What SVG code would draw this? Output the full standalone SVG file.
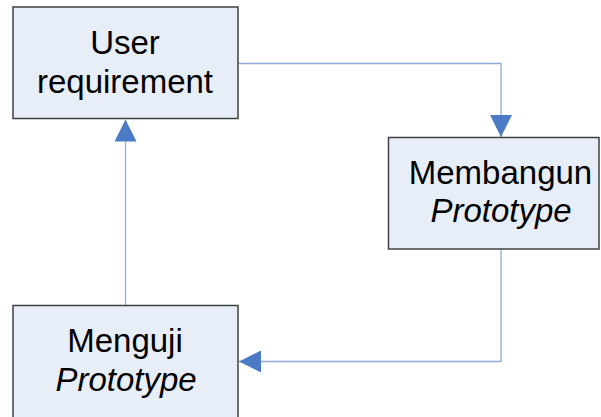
<svg xmlns="http://www.w3.org/2000/svg" width="601" height="417" viewBox="0 0 601 417">
  <defs>
    <style>
      .box { fill: #E8EEF8; stroke: #404040; stroke-width: 1.5; }
      .label { font-family: "Liberation Sans", Arial, sans-serif; font-size: 33px; fill: #000; text-anchor: middle; }
      .it { font-style: italic; }
      .conn { fill: none; stroke: #8EAADB; stroke-width: 1.3; }
    </style>
    <marker id="arrow" viewBox="0 0 22 22" refX="22" refY="11" markerWidth="22" markerHeight="22" markerUnits="userSpaceOnUse" orient="auto">
      <path d="M0,0 L22,11 L0,22 Z" fill="#4A7BC4"/>
    </marker>
  </defs>
  <rect width="601" height="417" fill="#FFFFFF"/>

  <g id="connectors">
    <path class="conn" d="M238,63.5 H501 V137" marker-end="url(#arrow)"/>
    <path class="conn" d="M501,249 V361.5 H239" marker-end="url(#arrow)"/>
    <path class="conn" d="M125.5,305.5 V119.5" marker-end="url(#arrow)"/>
  </g>

  <g id="user-requirement">
    <rect class="box" x="13" y="7" width="225" height="111.5"/>
    <text class="label" x="125" y="53.5">User</text>
    <text class="label" x="125" y="92.5">requirement</text>
  </g>

  <g id="membangun-prototype">
    <rect class="box" x="388.5" y="137.5" width="210.5" height="111.5"/>
    <text class="label" x="500.5" y="183.5">Membangun</text>
    <text class="label it" x="501" y="222">Prototype</text>
  </g>

  <g id="menguji-prototype">
    <rect class="box" x="13" y="305.5" width="225" height="120"/>
    <text class="label" x="125" y="351.7">Menguji</text>
    <text class="label it" x="126" y="390.7">Prototype</text>
  </g>
</svg>
